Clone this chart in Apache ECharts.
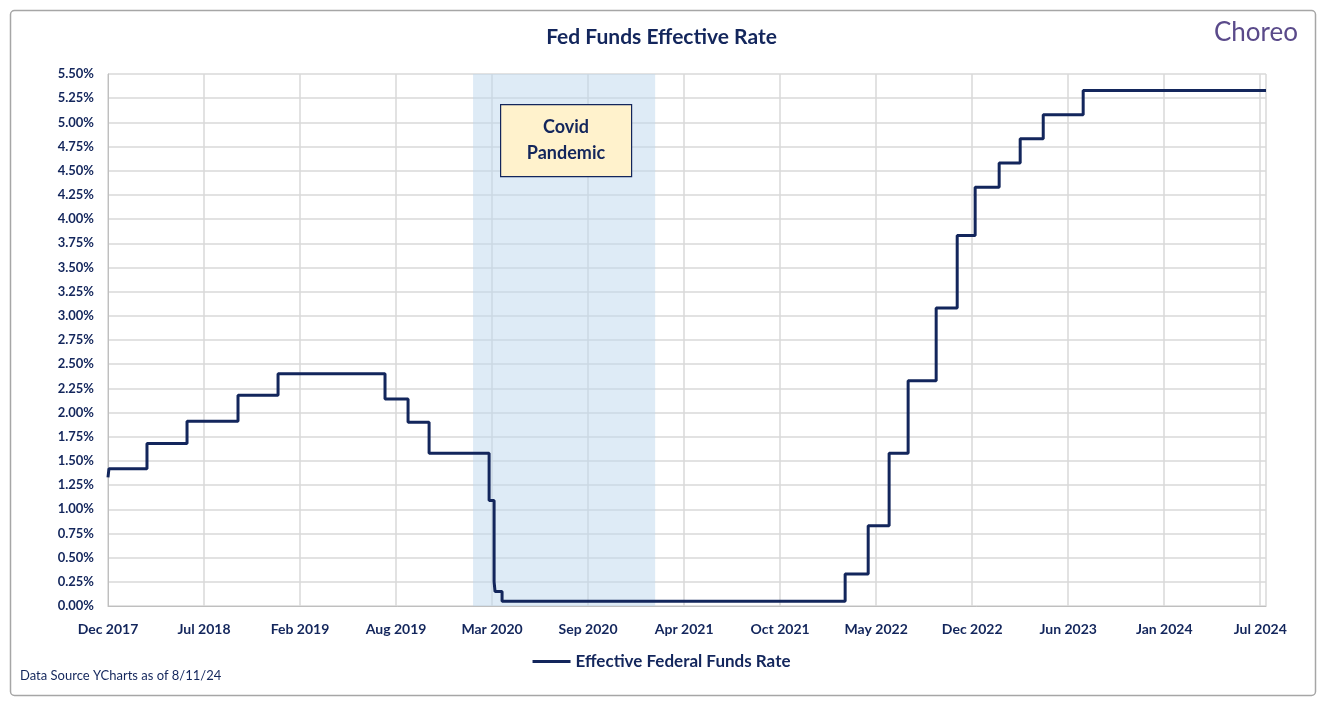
<!DOCTYPE html>
<html><head><meta charset="utf-8">
<script src="https://cdn.jsdelivr.net/npm/echarts@6/dist/echarts.min.js"></script>
<style>html,body{margin:0;padding:0;background:#fff}#c{width:1323px;height:701px}</style>
</head><body><div id="c"></div>
<script>
const xLabels = ['Dec 2017','Jul 2018','Feb 2019','Aug 2019','Mar 2020','Sep 2020','Apr 2021','Oct 2021','May 2022','Dec 2022','Jun 2023','Jan 2024','Jul 2024'];
// x positions measured in label-slot units (0 = Dec 2017 ... 12 = Jul 2024)
const stepX = [0, 0.01, 0.406, 0.823, 1.354, 1.771, 2.885, 3.125, 3.344, 3.969, 4.021, 4.031, 4.104, 7.677, 7.917, 8.135, 8.333, 8.625, 8.844, 9.031, 9.281, 9.5, 9.74, 10.156, 12.06];
const rates = [1.33, 1.42, 1.68, 1.91, 2.18, 2.40, 2.14, 1.90, 1.58, 1.09, 0.25, 0.15, 0.05, 0.33, 0.83, 1.58, 2.33, 3.08, 3.83, 4.33, 4.58, 4.83, 5.08, 5.33, 5.33];
const covidBand = [3.802, 5.698];
const navy = '#13265C';
const F = 'Lato';
const chart = echarts.init(document.getElementById('c'));
chart.setOption({
  animation:false,
  textStyle:{fontFamily:F},
  title:{text:'Fed Funds Effective Rate',left:'center',top:22,textStyle:{color:navy,fontSize:21,fontWeight:'bold',fontFamily:F}},
  grid:{left:108,right:57,top:74,bottom:95},
  legend:{bottom:26,left:'center',itemWidth:38,itemHeight:3,icon:'rect',textStyle:{color:navy,fontSize:17,fontWeight:'bold',fontFamily:F},data:['Effective Federal Funds Rate']},
  xAxis:{type:'value',min:0,max:12.06,interval:1,
    axisLine:{lineStyle:{color:'#BFBFBF'}},axisTick:{show:false},
    splitLine:{show:true,lineStyle:{color:'#D9D9D9',width:1.5}},
    axisLabel:{color:navy,fontWeight:'bold',fontSize:14,margin:16,showMaxLabel:false,formatter:v=>{const i=Math.round(v);return Math.abs(v-i)<1e-6?(xLabels[i]||''):'';}}},
  yAxis:{type:'value',min:0,max:5.5,interval:0.25,
    axisLine:{show:true,lineStyle:{color:'#BFBFBF'}},axisTick:{show:false},
    splitLine:{lineStyle:{color:'#D9D9D9',width:1.5}},
    axisLabel:{color:navy,fontWeight:'bold',fontSize:13,margin:14,formatter:v=>v.toFixed(2)+'%'}},
  series:[{name:'Effective Federal Funds Rate',type:'line',step:'end',showSymbol:false,
    data:stepX.map((x,i)=>[x,rates[i]]),lineStyle:{color:navy,width:3},itemStyle:{color:navy},
    markArea:{silent:true,itemStyle:{color:'rgba(189,215,238,0.5)'},data:[[{xAxis:covidBand[0]},{xAxis:covidBand[1]}]]}}],
  graphic:[
    {type:'rect',left:8,top:8,shape:{width:1305,height:685,r:4},style:{fill:'none',stroke:'#A6A6A6',lineWidth:1.5},z:-1},
    {type:'rect',left:500,top:104,shape:{width:131,height:72},style:{fill:'#FFF2CC',stroke:navy,lineWidth:1.2},z:10},
    {type:'text',x:566,y:114,style:{text:'Covid\nPandemic',fill:navy,font:'bold 18px Lato',align:'center',textAlign:'center',lineHeight:26},z:11},
    {type:'text',right:25,top:20,style:{text:'Choreo',fill:'#5A4A8A',font:'26px Lato'}},
    {type:'text',left:20,top:669,style:{text:'Data Source YCharts as of 8/11/24',fill:navy,font:'13px Lato'}}
  ]
});
</script></body></html>
